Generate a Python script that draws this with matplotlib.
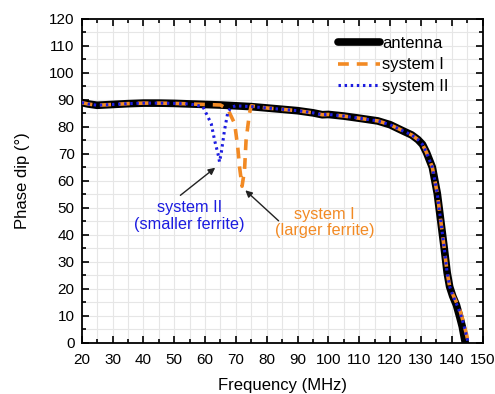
import matplotlib
matplotlib.use("Agg")
import matplotlib.pyplot as plt
import numpy as np
from matplotlib.ticker import MultipleLocator

plt.rcParams['font.family'] = ['Liberation Sans', 'DejaVu Sans']

# antenna curve
freq_ant = [20, 22, 25, 30, 35, 40, 45, 50, 55, 60, 65, 70, 75, 80, 85, 90, 95, 98, 100,
            105, 110, 116, 120, 124, 127, 129, 130.5, 131.8, 133.7, 135.3, 136.4, 137.5, 138.5,
            139.3, 140.3, 141.5, 142.6, 143.4, 144.3, 144.6]
phase_ant = [89, 88.5, 88.0, 88.3, 88.6, 88.8, 88.8, 88.7, 88.5, 88.3, 88.1, 87.8, 87.5, 87.0,
             86.5, 86.0, 85.2, 84.5, 84.6, 84.0, 83.2, 82.2, 80.8, 78.6, 77.0, 75.3, 73.5, 70.5,
             65.0, 55.3, 45.4, 35.5, 26.0, 20.8, 17.3, 14.0, 9.5, 6.0, 0.5, -2.0]

# system I (larger ferrite) – dip near 72 MHz
freq_s1 = [20, 22, 25, 30, 35, 40, 45, 50, 55, 60, 65, 67.4, 69.6, 70.6, 71.2, 72.0, 72.8,
           73.3, 74.4, 75, 77, 80, 85, 90, 95, 98, 100, 105, 110, 116, 120, 124, 127, 129,
           130.5, 131.8, 133.7, 135.3, 136.4, 137.5, 138.5, 139.3, 140.3, 141.5, 142.8, 143.8,
           144.8, 145.4]
phase_s1 = [89, 88.5, 88.0, 88.3, 88.6, 88.8, 88.8, 88.7, 88.5, 88.3, 88.1, 86.5, 81.2, 72.5,
            65.0, 58.0, 64.0, 75.0, 85.0, 87.8, 87.4, 87.0, 86.5, 86.0, 85.2, 84.5, 84.6,
            84.0, 83.2, 82.2, 80.8, 78.6, 77.0, 75.3, 73.5, 70.5, 65.0, 55.3, 45.4, 35.5, 26.0,
            21.0, 18.0, 15.0, 11.5, 7.5, 3.0, 0.0]

# system II (smaller ferrite) – dip near 65 MHz
freq_s2 = [20, 22, 25, 30, 35, 40, 45, 50, 55, 59.3, 62.0, 63.1, 64.2, 64.7, 65.3, 66.3,
           67.4, 68.5, 70, 75, 80, 85, 90, 95, 98, 100, 105, 110, 116, 120, 124, 127, 129,
           130.5, 131.8, 133.7, 135.3, 136.4, 137.5, 138.5, 139.3, 140.3, 141.5, 142.8, 143.8,
           144.8, 145.3]
phase_s2 = [89, 88.5, 88.0, 88.3, 88.6, 88.8, 88.8, 88.7, 88.5, 87.5, 81.2, 75.0, 70.0, 67.0,
            70.7, 78.7, 85.5, 87.3, 87.8, 87.5, 87.0, 86.5, 86.0, 85.2, 84.5, 84.6, 84.0,
            83.2, 82.2, 80.8, 78.6, 77.0, 75.3, 73.5, 70.5, 65.0, 55.3, 45.4, 35.5, 26.0, 20.9,
            17.6, 14.5, 10.8, 7.0, 2.5, 0.0]

fig = plt.figure(figsize=(4.95, 3.94), dpi=100)
ax = fig.add_axes([0.165, 0.13, 0.81, 0.822])

ax.plot(freq_ant, phase_ant, color='black', lw=5.5, solid_capstyle='round', label='antenna', zorder=3)
ax.plot(freq_s1, phase_s1, color='#F28A24', lw=2.6, linestyle=(0, (3, 2.2)), label='system I', zorder=4)
ax.plot(freq_s2, phase_s2, color='#1C1CE0', lw=2.2, linestyle=(0, (0.8, 1.2)), label='system II', zorder=5)

ax.set_xlim(20, 150)
ax.set_ylim(0, 120)
ax.xaxis.set_major_locator(MultipleLocator(10))
ax.xaxis.set_minor_locator(MultipleLocator(5))
ax.yaxis.set_major_locator(MultipleLocator(10))
ax.yaxis.set_minor_locator(MultipleLocator(5))
ax.grid(True, which='both', color='#E6E6E6', lw=0.8, zorder=0)
ax.set_axisbelow(True)
ax.tick_params(which='both', direction='in', top=True, right=True, labelsize=11, width=1.2)
ax.tick_params(which='major', length=5)
ax.tick_params(which='minor', length=3)
ax.tick_params(axis='x', which='major', pad=7)
ax.tick_params(axis='y', which='major', pad=5)
for s in ax.spines.values():
    s.set_linewidth(1.3)

ax.set_xlabel('Frequency (MHz)', fontsize=12, labelpad=8)
ax.set_ylabel('Phase dip (°)', fontsize=12, labelpad=14)

leg = ax.legend(loc='upper left', frameon=False, fontsize=12, handlelength=2.5,
                handletextpad=0.15, labelspacing=0.38, bbox_to_anchor=(0.615, 0.978),
                borderaxespad=0.2)

ax.annotate('', xy=(64.0, 65.5), xytext=(51.3, 54.0),
            arrowprops=dict(arrowstyle='-|>', color='#222222', lw=1.0, mutation_scale=10))
ax.text(55.0, 47.0, 'system II\n(smaller ferrite)', color='#1C1CE0', ha='center', va='center',
        fontsize=11.7, linespacing=1.1)
ax.annotate('', xy=(72.4, 57.2), xytext=(84.5, 44.5),
            arrowprops=dict(arrowstyle='-|>', color='#222222', lw=1.0, mutation_scale=10))
ax.text(98.8, 44.5, 'system I\n(larger ferrite)', color='#F28A24', ha='center', va='center',
        fontsize=11.7, linespacing=1.1)

fig.savefig('out.png', dpi=100)
